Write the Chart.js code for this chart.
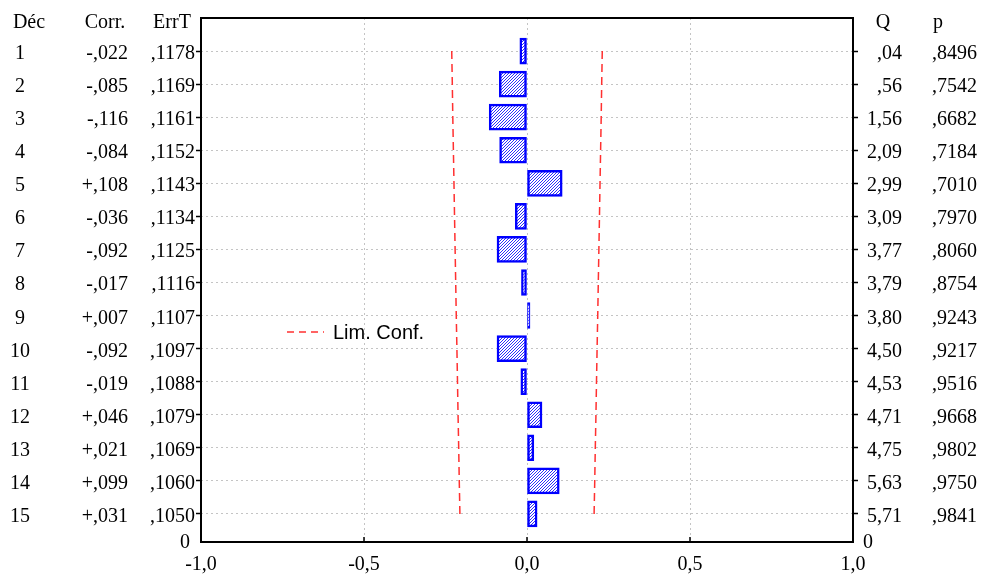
<!DOCTYPE html>
<html>
<head>
<meta charset="utf-8">
<script src="https://cdn.jsdelivr.net/npm/chart.js@4"></script>
<style>
  html, body { margin: 0; padding: 0; background: #fff; }
  #wrap { width: 984px; height: 574px; }
</style>
</head>
<body>
<div id="wrap"><canvas id="acfChart" width="984" height="574"></canvas></div>
<script>
Chart.defaults.color = '#000000';
Chart.defaults.font.family = '"Liberation Serif", "Times New Roman", serif';
Chart.defaults.font.size = 20;

const lags = [1, 2, 3, 4, 5, 6, 7, 8, 9, 10, 11, 12, 13, 14, 15];
const corr = [-0.022, -0.085, -0.116, -0.084, 0.108, -0.036, -0.092, -0.017, 0.007, -0.092, -0.019, 0.046, 0.021, 0.099, 0.031];
const errT = [0.1178, 0.1169, 0.1161, 0.1152, 0.1143, 0.1134, 0.1125, 0.1116, 0.1107, 0.1097, 0.1088, 0.1079, 0.1069, 0.1060, 0.1050];
const qStat = [0.04, 0.56, 1.56, 2.09, 2.99, 3.09, 3.77, 3.79, 3.80, 4.50, 4.53, 4.71, 4.75, 5.63, 5.71];
const pVals = [0.8496, 0.7542, 0.6682, 0.7184, 0.7010, 0.7970, 0.8060, 0.8754, 0.9243, 0.9217, 0.9516, 0.9668, 0.9802, 0.9750, 0.9841];
const confLim = [0.2309, 0.2291, 0.2276, 0.2258, 0.2240, 0.2223, 0.2205, 0.2187, 0.2170, 0.2150, 0.2132, 0.2115, 0.2095, 0.2078, 0.2058];
const xTicks = [-1, -0.5, 0, 0.5, 1];

// hachures bleues pour les barres (diagonale pixel par pixel)
function makeHatch() {
    const c = document.createElement('canvas');
    c.width = 3; c.height = 3;
    const g = c.getContext('2d');
    g.fillStyle = '#ffffff';
    g.fillRect(0, 0, 3, 3);
    g.fillStyle = '#2b2bff';
    for (let i = 0; i < 3; i++) g.fillRect(i, 2 - i, 1, 1);
    return g.createPattern(c, 'repeat');
}

const fmtCorr = v => (v < 0 ? '-' : '+') + ',' + Math.abs(v).toFixed(3).slice(2);
const fmtFrac = (v, d) => v.toFixed(d).replace('.', ',').replace(/^0,/, ',');

const tablePlugin = {
    id: 'tablePlugin',
    afterDraw(chart) {
        const ctx = chart.ctx;
        const y = chart.scales.y;
        const a = chart.chartArea;
        ctx.save();

        // cadre
        ctx.strokeStyle = '#000';
        ctx.lineWidth = 2;
        ctx.strokeRect(a.left, a.top, a.right - a.left, a.bottom - a.top);

        // petites graduations vers l'intérieur sur l'axe du bas
        ctx.lineWidth = 1.5;
        xTicks.slice(1, -1).forEach(v => {
            const px = chart.scales.x.getPixelForValue(v);
            ctx.beginPath();
            ctx.moveTo(px, a.bottom);
            ctx.lineTo(px, a.bottom - 5);
            ctx.stroke();
        });

        ctx.fillStyle = '#000';
        ctx.font = '20px "Liberation Serif", serif';

        // en-têtes
        ctx.textAlign = 'center';
        ctx.fillText('Déc', 29, 28);
        ctx.fillText('Corr.', 105, 28);
        ctx.fillText('ErrT', 172, 28);
        ctx.fillText('Q', 883, 28);
        ctx.fillText('p', 938, 28);

        lags.forEach((lag, i) => {
            const py = y.getPixelForValue(lag) + 8;
            ctx.textAlign = 'center';
            ctx.fillText(String(lag), 20, py);
            ctx.textAlign = 'right';
            ctx.fillText(fmtCorr(corr[i]), 128, py);
            ctx.fillText(fmtFrac(errT[i], 4), 195, py);
            ctx.fillText(fmtFrac(qStat[i], 2), 902, py);
            ctx.fillText(fmtFrac(pVals[i], 4), 977, py);
        });

        ctx.textAlign = 'right';
        ctx.fillText('0', 190, a.bottom + 6);
        ctx.textAlign = 'left';
        ctx.fillText('0', 863, a.bottom + 6);

        // légende
        const ly = (y.getPixelForValue(9) + y.getPixelForValue(10)) / 2;
        ctx.strokeStyle = '#ff3030';
        ctx.lineWidth = 1.5;
        ctx.setLineDash([7, 5]);
        ctx.beginPath();
        ctx.moveTo(287, ly);
        ctx.lineTo(324, ly);
        ctx.stroke();
        ctx.setLineDash([]);
        ctx.font = '20px "Liberation Sans", Arial, sans-serif';
        ctx.textAlign = 'left';
        ctx.textBaseline = 'middle';
        ctx.fillText('Lim. Conf.', 333, ly + 1);
        ctx.restore();
    }
};

const gridStyle = {
    color: '#c4c4c4',
    lineWidth: 1,
    offset: false,
    tickColor: '#000',
    tickBorderDash: [],
    tickWidth: 1.5,
    tickLength: 5
};

new Chart(document.getElementById('acfChart'), {
    type: 'bar',
    data: {
        datasets: [
            {
                label: 'Corr.',
                data: lags.map((l, i) => ({ x: corr[i], y: l })),
                backgroundColor: makeHatch(),
                borderColor: '#0000ff',
                borderWidth: 2.5,
                borderSkipped: false,
                barThickness: 26,
                minBarLength: 3,
                order: 2
            },
            {
                type: 'line',
                label: 'Lim. Conf.',
                data: lags.map((l, i) => ({ x: -confLim[i], y: l })),
                borderColor: '#ff3030',
                borderWidth: 1.5,
                borderDash: [8, 5],
                pointRadius: 0,
                fill: false,
                order: 1
            },
            {
                type: 'line',
                label: 'Lim. Conf. +',
                data: lags.map((l, i) => ({ x: confLim[i], y: l })),
                borderColor: '#ff3030',
                borderWidth: 1.5,
                borderDash: [8, 5],
                pointRadius: 0,
                fill: false,
                order: 1
            }
        ]
    },
    options: {
        indexAxis: 'y',
        responsive: false,
        animation: false,
        layout: { padding: { top: 18 } },
        plugins: {
            legend: { display: false },
            tooltip: { enabled: false }
        },
        scales: {
            x: {
                type: 'linear',
                min: -1,
                max: 1,
                offset: false,
                afterBuildTicks: s => { s.ticks = xTicks.map(v => ({ value: v })); },
                afterFit: s => { s.height = 32; },
                grid: { ...gridStyle, drawTicks: false },
                border: { display: false, dash: [2, 3] },
                ticks: {
                    padding: 11,
                    callback: v => v.toFixed(1).replace('.', ',')
                }
            },
            y: {
                type: 'linear',
                reverse: true,
                offset: false,
                min: 0,
                max: 15.85,
                afterBuildTicks: s => { s.ticks = lags.map(v => ({ value: v })); },
                afterFit: s => { s.width = 201; },
                grid: gridStyle,
                border: { display: false, dash: [2, 3] },
                ticks: { display: false }
            },
            y2: {
                type: 'linear',
                position: 'right',
                reverse: true,
                offset: false,
                min: 0,
                max: 15.85,
                afterBuildTicks: s => { s.ticks = lags.map(v => ({ value: v })); },
                afterFit: s => { s.width = 131; },
                grid: { ...gridStyle, drawOnChartArea: false },
                border: { display: false },
                ticks: { display: false }
            }
        }
    },
    plugins: [tablePlugin]
});
</script>
</body>
</html>
